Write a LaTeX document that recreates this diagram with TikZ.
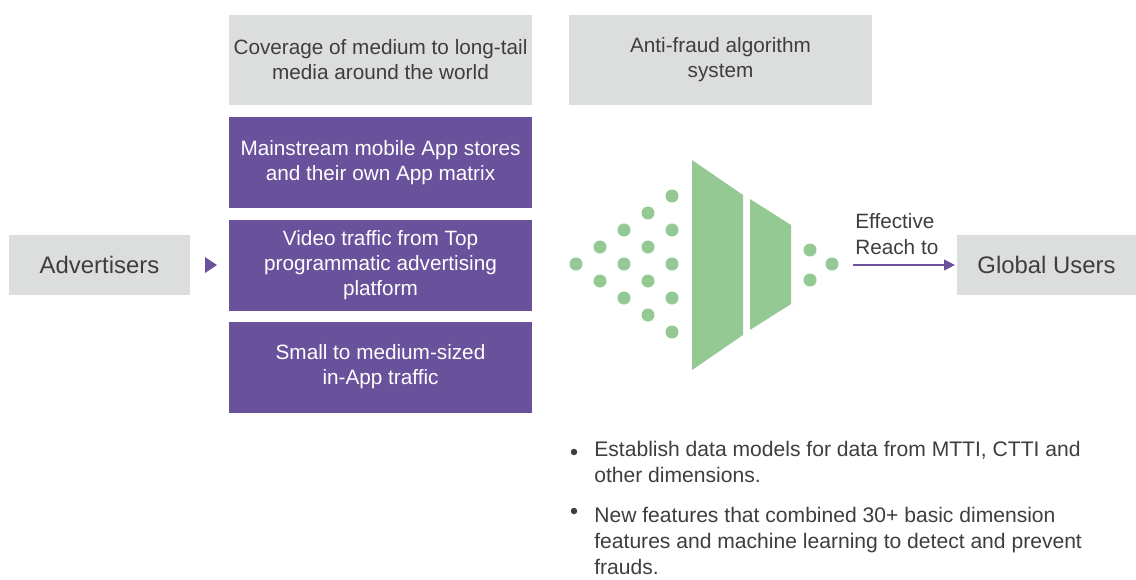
\documentclass[tikz,border=0pt]{standalone}
\usepackage{fontspec}
\setmainfont{Liberation Sans}
\usetikzlibrary{arrows.meta}
\definecolor{boxgray}{HTML}{DCDDDD}
\definecolor{boxpurple}{HTML}{6A519C}
\definecolor{dotgreen}{HTML}{95C994}
\definecolor{txtgray}{HTML}{3E3E3E}
\tikzset{
  graybox/.style={fill=boxgray, text=txtgray, minimum width=6.06cm,
    minimum height=1.8cm, align=center, inner sep=0pt,
    font=\fontsize{11.8}{14.2}\selectfont},
  purplebox/.style={graybox, fill=boxpurple, text=white, minimum height=1.82cm},
  endbox/.style={fill=boxgray, text=txtgray, minimum width=3.62cm,
    minimum height=1.2cm, inner sep=0pt, font=\fontsize{13.6}{16}\selectfont},
  bullettext/.style={anchor=base west, align=left, inner sep=0pt, text=txtgray,
    font=\fontsize{12}{14.8}\selectfont},
}
\begin{document}
\begin{tikzpicture}[x=0.02cm, y=-0.02cm]
  \useasboundingbox (0,0) rectangle (1136,579);

  \node[graybox] (coverage) at (380.5,60) {Coverage of medium to long-tail\\media around the world};
  \node[graybox] (antifraud) at (720.5,60) {Anti-fraud algorithm\\system};
  \node[purplebox] (appstores) at (380.5,162.5) {Mainstream mobile App stores\\and their own App matrix};
  \node[purplebox] (video) at (380.5,265.5) {Video traffic from Top\\programmatic advertising\\platform};
  \node[purplebox] (inapp) at (380.5,367) {Small to medium-sized\\in-App traffic};

  \node[endbox] (advertisers) at (99.5,265) {Advertisers};
  \node[endbox, minimum width=3.58cm] (globalusers) at (1046.5,265) {Global Users};
  \fill[boxpurple] (205,257) -- (217,265) -- (205,273) -- cycle;

  % funnel of dots
  \foreach \k in {0,...,4}
    \foreach \j in {0,...,\k}
      \fill[dotgreen] (576+24*\k, 264+34*\j-17*\k) circle (0.13cm);
  \fill[dotgreen] (692,160) -- (743,195) -- (743,335) -- (692,370) -- cycle;
  \fill[dotgreen] (750,199) -- (791,225) -- (791,304) -- (750,330) -- cycle;
  \foreach \x/\y in {810/250, 810/280, 832/264}
    \fill[dotgreen] (\x,\y) circle (0.13cm);

  \coordinate (reachstart) at (853,265);
  \draw[boxpurple, line width=0.6pt, -{Triangle[length=6.2pt,width=6.2pt]}, shorten >=1pt]
    (reachstart) -- (globalusers.west);
  \node[anchor=west, align=left, inner sep=0pt, text=txtgray,
        font=\fontsize{11.8}{14.7}\selectfont] (reach) at (855,234) {Effective\\Reach to};

  % bullet notes (base = last line)
  \fill[txtgray] (574,452) circle (0.065cm);
  \node[bullettext] (note1) at (594,482.5) {Establish data models for data from MTTI, CTTI and\\other dimensions.};
  \fill[txtgray] (574,511) circle (0.065cm);
  \node[bullettext] (note2) at (594,574) {New features that combined 30+ basic dimension\\features and machine learning to detect and prevent\\frauds.};
\end{tikzpicture}
\end{document}
